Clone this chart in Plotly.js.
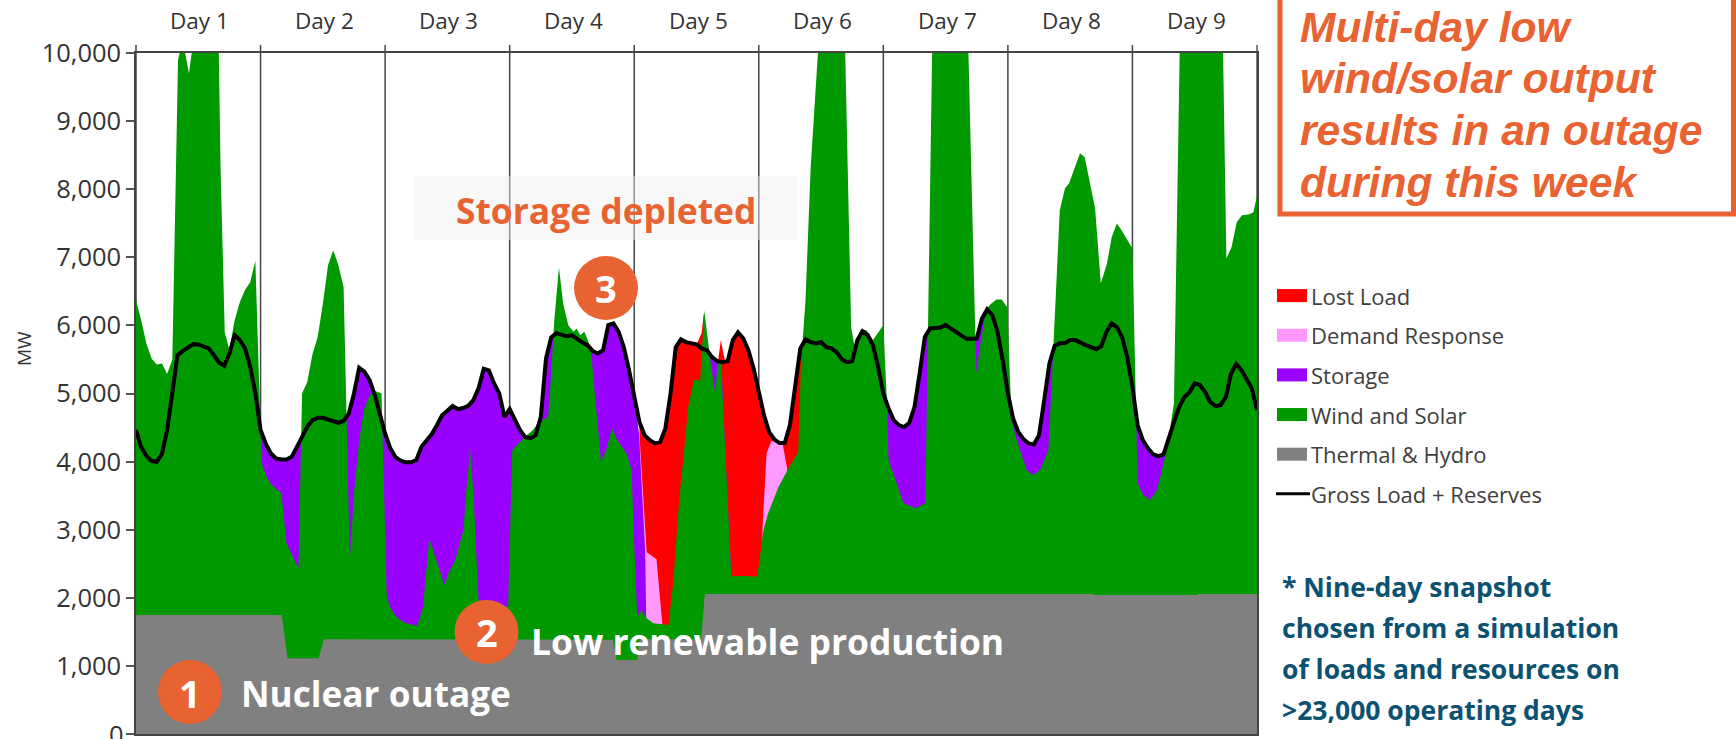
<!DOCTYPE html>
<html>
<head>
<meta charset="utf-8">
<script src="https://cdn.plot.ly/plotly-3.0.1.min.js"></script>
<style>html,body{margin:0;padding:0;background:#fff;overflow:hidden}#chart{width:1736px;height:739px}</style>
</head>
<body>
<div id="chart"></div>
<script>
const dayLabels = ['Day 1','Day 2','Day 3','Day 4','Day 5','Day 6','Day 7','Day 8','Day 9'];
const dayBoundaries = [24,48,72,96,120,144,168,192];
const yTicks = [0,1000,2000,3000,4000,5000,6000,7000,8000,9000,10000];
const legendNames = ['Lost Load','Demand Response','Storage','Wind and Solar','Thermal &amp; Hydro','Gross Load + Reserves'];
const legendColors = ['#FF0000','#FF99FF','#9900FF','#009900','#808080','#000000'];

// Gross load + reserves, one value per hour, hour 0 to hour 216
const loadMW = [
4463,4213,4085,4008,3998,4115,4463,5050,5564,5622,5676,5725,5720,5686,5663,5565,5455,5407,5585,5857,5784,5662,5394,5003,
4463,4265,4118,4045,4030,4030,4070,4217,4364,4510,4608,4643,4643,4623,4600,4570,4600,4705,5000,5377,5320,5200,4975,4680,
4414,4194,4067,4012,3989,3989,4022,4218,4316,4404,4537,4683,4746,4816,4771,4787,4820,4903,5075,5364,5340,5148,5001,4657,
4771,4610,4463,4360,4345,4389,4657,5515,5825,5886,5857,5840,5855,5794,5750,5710,5625,5588,5637,6004,6028,5905,5680,5344,
4945,4583,4389,4316,4267,4287,4488,5001,5681,5794,5755,5735,5721,5662,5637,5534,5475,5461,5475,5784,5897,5809,5637,5369,
5001,4683,4433,4326,4272,4272,4536,5148,5662,5794,5755,5735,5755,5681,5662,5608,5500,5461,5475,5784,5916,5857,5710,5387,
5001,4781,4610,4536,4507,4570,4800,5295,5830,5955,5965,5970,6004,5955,5905,5842,5803,5803,5808,6100,6234,6150,5905,5489,
5001,4634,4437,4330,4266,4252,4389,4903,5442,5700,5737,5740,5784,5784,5740,5710,5680,5650,5695,5906,6029,5975,5828,5534,
5094,4536,4316,4194,4106,4081,4106,4360,4580,4800,4947,5020,5148,5124,5020,4874,4815,4830,4947,5295,5432,5344,5221,5075,4756];
const loadHours = loadMW.map((_, i) => i);

// Upper edge of each stacked band (hour, MW)
const thermalHours = [0,28.1,29.2,35.2,36.2,56.7,57,91.9,92.6,96.6,97,108.9,109.6,184.4,184.6,204.5,204.7,216];
const thermalTop   = [1747,1747,1111,1111,1390,1390,1385,1385,1086,1086,1390,1390,2055,2055,2040,2040,2055,2055];

const windHours = [0,1,2,3,4,5,6,7,8.1,9,10.2,11.1,15.9,16.3,17.1,18,19,20,21,22,23,24.2,25,26,27,28,29,30,31.3,32,33,34,35,36,37,38,39,40,41.2,42,43,44,45,46,47.3,48.3,48.9,49.9,50.9,52,54.2,55.3,56.5,59.4,60.2,61.5,63.1,63.6,64.4,65,66,71.7,72.5,74.9,76.5,77.4,78.4,79.4,80,80.6,81.5,82.3,83.3,84.3,84.9,85.6,86.4,87.2,87.7,88.7,89.6,90.6,91.7,92.7,94.5,95.5,95.9,96.6,97.4,98.4,99.7,101.3,102.6,103.5,104.7,105.5,106.4,107.5,108.7,109.5,110.6,111.6,112.1,112.7,113.8,114.7,117.4,119.7,120.9,121.8,123.8,125.7,127.6,128.1,129,130,131.4,132,136.6,137.8,138.5,139.6,140.7,142,144,144.7,145,147.9,150.2,152.1,153.4,153.7,160.3,161.9,162.6,163.8,164.8,165.8,166.8,167.9,168.7,169.7,171.6,172.8,174.2,175.8,176.8,178,179,179.8,181.9,182.8,184.8,185.9,187.1,188,189,189.9,192,193,194.1,195.4,196.7,198,199,200,201.1,201.4,209.4,210.1,211.1,212.1,213.1,214.4,215.3,215.8,216];
const windTop   = [6371,6077,5735,5515,5426,5442,5285,5500,9900,10200,9700,10200,10300,8300,5900,5637,6077,6340,6518,6635,6950,3974,3802,3670,3592,3542,2799,2628,2432,5001,5170,5578,5825,6315,6885,7105,6885,6562,2554,3533,4316,4781,4976,5035,5005,2044,1865,1747,1674,1625,1590,1865,2873,2187,2359,2554,2995,3533,4169,3533,1967,1865,4169,4360,4463,4561,4610,4655,5295,6077,6855,6322,6004,5905,5955,5857,5905,5755,5588,4757,3997,4169,4488,4316,4120,3875,2946,1718,1820,1698,1625,1610,1600,2212,3475,4066,4800,5206,5182,6224,5534,5001,5490,5490,3626,2315,2320,2310,2995,3240,3626,3900,4140,5387,6371,8324,10000,10300,10200,5970,5675,5931,5931,5785,6004,4855,4022,3387,3314,3391,10000,10300,10300,5295,5681,6234,6322,6381,6381,6263,4610,4316,3875,3802,3875,4169,5740,7692,8015,8089,8529,8470,7722,6616,6910,7296,7497,7399,7130,3680,3509,3435,3582,3974,4360,4855,10000,10300,10300,6983,7150,7516,7619,7630,7663,7864,7900];

// Storage runs up to the load line during its long stretches
const storageEndHours = [96.9,97.6,98.1,98.3];
const storageEndTop   = [4430,3435,2700,1760];
const storageMidHours = [110,111,112,112.8,113.8,114.7];
const storageMidTop   = [5637,5534,5475,5500,3700,2380];

const demandHoursA = [97,97.6,98.4,100.3,101.4];
const demandTopA   = [4400,3680,2670,2565,1625];
const demandHoursB = [120.7,121.5,122.4,124.6,125.5];
const demandTopB   = [2995,4120,4301,4257,3885];

const lostMidHours = [109,109.4,110.6,112.1,112.7,113.5];
const lostMidTop   = [5887,6180,5400,5450,5784,5465];

const ORANGE = '#E96231';
const FONT = '"Open Sans", sans-serif';
const L = 136, R = 1257, T = 53, B = 734;
const px = x => (x - L) / (R - L);
const py = y => (B - y) / (B - T);

function area(name, x, y, color) {
  return {type:'scatter', mode:'lines', name, x, y, fill:'tozeroy', fillcolor:color,
          line:{width:0, color}, hoverinfo:'skip', showlegend:false};
}
const traces = [
  area('Lost Load', [...loadHours.slice(97,109), ...lostMidHours, ...loadHours.slice(114,130)],
                    [...loadMW.slice(97,109), ...lostMidTop, ...loadMW.slice(114,130)], '#FF0000'),
  area('Demand Response', demandHoursA, demandTopA, '#FF99FF'),
  area('Demand Response', demandHoursB, demandTopB, '#FF99FF'),
  area('Storage', [...loadHours.slice(24,97), ...storageEndHours], [...loadMW.slice(24,97), ...storageEndTop], '#9900FF'),
  area('Storage', storageMidHours, storageMidTop, '#9900FF'),
  area('Storage', loadHours.slice(129), loadMW.slice(129), '#9900FF'),
  area('Wind and Solar', windHours, windTop, '#009900'),
  area('Thermal & Hydro', thermalHours, thermalTop, '#808080'),
  {type:'scatter', mode:'lines', name:'Gross Load + Reserves', x:loadHours, y:loadMW,
   line:{color:'#000000', width:4}, hoverinfo:'skip', showlegend:false}
];

const annotation = (x, y, text, size, color, extra) => Object.assign({
  xref:'paper', yref:'paper', x:px(x), y:py(y), text, showarrow:false, xanchor:'left', yanchor:'middle',
  font:{family:FONT, size, color}
}, extra || {});

const legendRowY = i => 295.6 + i * 39.65;

const shapes = [
  ...dayBoundaries.map(h => ({type:'line', layer:'below', xref:'x', yref:'paper', x0:h, x1:h, y0:0, y1:py(45),
      line:{color:'#444444', width:1.5}})),
  {type:'line', layer:'below', xref:'paper', yref:'paper', x0:0, x1:0, y0:0, y1:py(45), line:{color:'#444444', width:1.5}},
  {type:'line', layer:'below', xref:'paper', yref:'paper', x0:1, x1:1, y0:0, y1:py(45), line:{color:'#555555', width:1.5}},
  {type:'rect', layer:'above', xref:'paper', yref:'paper', x0:px(414), x1:px(798), y0:py(240), y1:py(176),
      fillcolor:'rgba(240,240,240,0.45)', line:{width:0}},
  {type:'rect', layer:'above', xref:'paper', yref:'paper', x0:px(1280), x1:px(1733.5), y0:py(214), y1:py(-10),
      fillcolor:'rgba(0,0,0,0)', line:{color:ORANGE, width:5}},
  ...[[190,692],[486.5,632],[606,288]].map(c => ({type:'circle', layer:'above', xref:'paper', yref:'paper',
      x0:px(c[0]-32), x1:px(c[0]+32), y0:py(c[1]+32), y1:py(c[1]-32), fillcolor:ORANGE, line:{width:0}})),
  ...legendColors.map((c, i) => i < 5
    ? {type:'rect', layer:'above', xref:'paper', yref:'paper', x0:px(1277), x1:px(1307),
       y0:py(legendRowY(i)+6.5), y1:py(legendRowY(i)-6.5), fillcolor:c, line:{width:0}}
    : {type:'line', layer:'above', xref:'paper', yref:'paper', x0:px(1276), x1:px(1310),
       y0:py(legendRowY(i)), y1:py(legendRowY(i)), line:{color:c, width:3}})
];

const annotations = [
  ...dayLabels.map((d, i) => ({xref:'x', yref:'paper', x:i * 24 + 12.3, y:py(20), text:d, showarrow:false,
      xanchor:'center', yanchor:'middle', font:{family:FONT, size:22.5, color:'#333333'}})),
  ...legendNames.map((n, i) => annotation(1309, legendRowY(i), n, 22, '#404040')),
  annotation(126, 734, '0', 25.5, '#333333', {xanchor:'right'}),
  annotation(24, 349, 'MW', 19, '#333333', {xanchor:'center', textangle:-90}),
  annotation(454, 210, '<b>Storage depleted</b>', 35.4, ORANGE),
  annotation(529, 641, '<b>Low renewable production</b>', 35.4, '#FFFFFF'),
  annotation(239, 693, '<b>Nuclear outage</b>', 35.2, '#FFFFFF'),
  annotation(190, 693, '<b>1</b>', 38, '#FFFFFF', {xanchor:'center'}),
  annotation(486.5, 632, '<b>2</b>', 38, '#FFFFFF', {xanchor:'center'}),
  annotation(606, 288, '<b>3</b>', 38, '#FFFFFF', {xanchor:'center'}),
  ...['Multi-day low','wind/solar output','results in an outage','during this week'].map((t, i) =>
    annotation(1298, 27 + i * 51.5, '<b><i>' + t + '</i></b>', 42.6, ORANGE,
      {font:{family:'"Liberation Sans", Arial, sans-serif', size:42.6, color:ORANGE}})),
  ...['* Nine-day snapshot','chosen from a simulation','of loads and resources on','&gt;23,000 operating days'].map((t, i) =>
    annotation(1280, 587 + i * 41, '<b>' + t + '</b>', 26.5, '#0B5171'))
];

const layout = {
  width:1736, height:739, paper_bgcolor:'#FFFFFF', plot_bgcolor:'#FFFFFF',
  margin:{l:L, r:1736-R, t:T, b:739-B, pad:0},
  showlegend:false,
  xaxis:{range:[0,216], showgrid:false, zeroline:false, showticklabels:false, ticks:'',
         showline:true, linecolor:'#444444', linewidth:1.5, mirror:true},
  yaxis:{range:[0,10000], tickvals:yTicks, tickformat:',d', showgrid:false, zeroline:false, ticks:'outside', ticklen:8,
         tickcolor:'#555555', tickwidth:1.5, showline:true, linecolor:'#444444', linewidth:1.5, mirror:true,
         tickfont:{family:FONT, size:25.5, color:'#333333'}},
  shapes, annotations
};
Plotly.newPlot('chart', traces, layout, {displayModeBar:false, responsive:false});
</script>
</body>
</html>
